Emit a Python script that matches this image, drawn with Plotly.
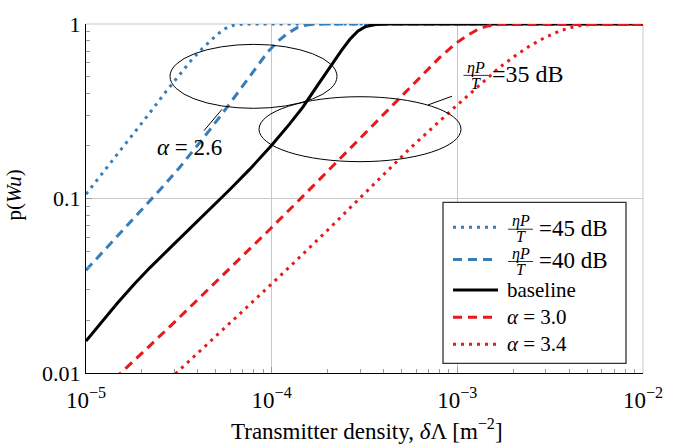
import plotly.graph_objects as go

# Coverage probability vs. transmitter density (log-log)
density_45db = [1.0e-5, 1.182e-5, 1.466e-5, 1.827e-5, 2.219e-5, 2.650e-5, 3.192e-5, 3.614e-5,
                4.091e-5, 4.632e-5, 5.116e-5, 5.649e-5, 6.238e-5, 7.064e-5, 1.0e-2]
p_45db = [0.1059, 0.1325, 0.1778, 0.2402, 0.3123, 0.4007, 0.5142, 0.6032,
          0.6989, 0.7943, 0.8743, 0.9441, 0.9835, 1.0, 1.0]

density_40db = [1.0e-5, 1.182e-5, 1.516e-5, 1.943e-5, 2.617e-5, 3.192e-5, 3.797e-5, 4.632e-5,
                5.720e-5, 7.150e-5, 8.404e-5, 9.515e-5, 1.077e-4, 1.220e-4, 1.381e-4,
                1.563e-4, 1.770e-4, 1.0e-2]
p_40db = [0.03881, 0.04701, 0.06268, 0.0836, 0.1181, 0.1506, 0.1884, 0.2464,
          0.3308, 0.4582, 0.5806, 0.6902, 0.7943, 0.8855, 0.9562,
          0.9898, 1.0, 1.0]

density_base = [1.0e-5, 1.182e-5, 1.466e-5, 1.827e-5, 2.219e-5, 2.819e-5, 3.614e-5, 4.632e-5,
                5.936e-5, 7.608e-5, 1.0e-4, 1.250e-4, 1.469e-4, 1.770e-4, 2.132e-4,
                2.384e-4, 2.633e-4, 2.908e-4, 3.211e-4, 3.636e-4, 4.219e-4, 1.0e-2]
p_base = [0.01525, 0.01896, 0.02495, 0.03244, 0.04032, 0.05175, 0.06683, 0.08688,
          0.1122, 0.1468, 0.2020, 0.2678, 0.3328, 0.4467, 0.5995,
          0.7079, 0.8151, 0.9085, 0.9685, 0.9936, 1.0, 1.0]

density_a30 = [1.424e-5, 1.529e-5, 2.042e-5, 3.192e-5, 5.511e-5, 9.754e-5, 1.663e-4, 2.633e-4,
               4.491e-4, 6.279e-4, 8.044e-4, 9.815e-4, 1.139e-3, 1.290e-3, 1.460e-3,
               1.694e-3, 2.042e-3, 1.0e-2]
p_a30 = [0.009261, 0.009936, 0.01325, 0.02087, 0.03664, 0.0664, 0.1173, 0.1932,
         0.3458, 0.498, 0.6434, 0.7743, 0.8631, 0.9321, 0.9747,
         0.9936, 1.0, 1.0]

density_a34 = [2.819e-5, 3.087e-5, 4.632e-5, 7.608e-5, 1.250e-4, 2.055e-4, 3.376e-4, 5.546e-4,
               9.112e-4, 1.322e-3, 1.694e-3, 2.042e-3, 2.459e-3, 2.962e-3, 3.569e-3,
               4.298e-3, 5.178e-3, 6.238e-3, 1.0e-2]
p_a34 = [0.009201, 0.01006, 0.01506, 0.02464, 0.04058, 0.06769, 0.1144, 0.1932,
         0.3143, 0.4496, 0.566, 0.6556, 0.7499, 0.8359, 0.9145,
         0.9685, 0.9936, 1.0, 1.0]

x_tickvals = [1e-5, 1e-4, 1e-3, 1e-2]
x_ticktext = ["10<sup>−5</sup>", "10<sup>−4</sup>", "10<sup>−3</sup>", "10<sup>−2</sup>"]
y_tickvals = [0.01, 0.1, 1]
y_ticktext = ["0.01", "0.1", "1"]

BLUE = "#377eb8"
RED = "#e41a1c"
DOT = "3px,5px"
DASH = "9px,6px"
FONT = "Liberation Serif, Times New Roman, DejaVu Serif, serif"

W, H = 689, 447
ML, MR, MT, MB = 86, 46, 13, 74
PW, PH = W - ML - MR, H - MT - MB


def px(x):
    return (x - ML) / PW


def py(y):
    return (H - MB - y) / PH


series = [
    (density_45db, p_45db, BLUE, DOT, "45 dB"),
    (density_40db, p_40db, BLUE, DASH, "40 dB"),
    (density_base, p_base, "black", "solid", "baseline"),
    (density_a30, p_a30, RED, DASH, "α = 3.0"),
    (density_a34, p_a34, RED, DOT, "α = 3.4"),
]

fig = go.Figure()
for xs, ys, col, dash, name in series:
    fig.add_trace(go.Scatter(
        x=xs, y=ys, mode="lines", name=name, showlegend=False,
        line=dict(color=col, width=3, dash=dash),
    ))

shapes = []
annotations = []

# frame lines on top and right
shapes.append(dict(type="line", xref="paper", yref="paper", x0=0, x1=1, y0=1, y1=1,
                   line=dict(color="#c8c8c8", width=1), layer="below"))
shapes.append(dict(type="line", xref="paper", yref="paper", x0=1, x1=1, y0=0, y1=1,
                   line=dict(color="#c8c8c8", width=1), layer="below"))

# grouping ellipses and leader lines
shapes.append(dict(type="circle", xref="paper", yref="paper",
                   x0=px(170), x1=px(337), y0=py(100), y1=py(34),
                   line=dict(color="black", width=1)))
shapes.append(dict(type="circle", xref="paper", yref="paper",
                   x0=px(259), x1=px(461), y0=py(155), y1=py(88),
                   line=dict(color="black", width=1)))
shapes.append(dict(type="line", xref="paper", yref="paper",
                   x0=px(222), y0=py(101), x1=px(204), y1=py(123),
                   line=dict(color="black", width=1)))
shapes.append(dict(type="line", xref="paper", yref="paper",
                   x0=px(428), y0=py(96.5), x1=px(452), y1=py(87.5),
                   line=dict(color="black", width=1)))

annotations.append(dict(xref="paper", yref="paper", x=px(189), y=py(140),
                        text="<i>α</i> = 2.6", showarrow=False,
                        font=dict(family=FONT, size=23, color="black"),
                        xanchor="center", yanchor="middle"))


def fraction(xc, yrow, label, left, size):
    # stacked ηP / T fraction followed by the value text
    annotations.append(dict(xref="paper", yref="paper", x=px(xc), y=py(yrow - 6),
                            text="<i>ηP</i>", showarrow=False,
                            font=dict(family=FONT, size=16, color="black"),
                            xanchor="center", yanchor="middle"))
    annotations.append(dict(xref="paper", yref="paper", x=px(xc), y=py(yrow + 10),
                            text="<i>T</i>", showarrow=False,
                            font=dict(family=FONT, size=16, color="black"),
                            xanchor="center", yanchor="middle"))
    shapes.append(dict(type="line", xref="paper", yref="paper",
                       x0=px(xc - 12.5), x1=px(xc + 12.5), y0=py(yrow + 2), y1=py(yrow + 2),
                       line=dict(color="black", width=0.8), layer="above"))
    annotations.append(dict(xref="paper", yref="paper", x=px(left), y=py(yrow + 1),
                            text="=" + label, showarrow=False,
                            font=dict(family=FONT, size=size, color="black"),
                            xanchor="left", yanchor="middle"))


fraction(476, 64, "35 dB", 490, 24)

# legend box
LX0, LX1, LY0, LY1 = 443, 626, 197, 363
shapes.append(dict(type="rect", xref="paper", yref="paper",
                   x0=px(LX0), x1=px(LX1), y0=py(LY1), y1=py(LY0),
                   line=dict(color="#333333", width=1.3), fillcolor="white", layer="above"))
legend_rows = [222.7, 256, 287.3, 315.5, 343.3]
for (xs, ys, col, dash, name), yr in zip(series, legend_rows):
    shapes.append(dict(type="line", xref="paper", yref="paper",
                       x0=px(453), x1=px(498), y0=py(yr), y1=py(yr),
                       line=dict(color=col, width=3, dash=dash), layer="above"))
    if name.endswith("dB"):
        fraction(520.5, yr, name, 537, 23)
    else:
        txt = name.replace("α", "<i>α</i>")
        annotations.append(dict(xref="paper", yref="paper", x=px(505), y=py(yr),
                                text=txt, showarrow=False,
                                font=dict(family=FONT, size=21, color="black"),
                                xanchor="left", yanchor="middle"))

# axis titles
annotations.append(dict(xref="paper", yref="paper", x=px(367), y=py(431),
                        text="Transmitter density, <i>δ</i>Λ [m<sup>−2</sup>]", showarrow=False,
                        font=dict(family=FONT, size=23, color="black"),
                        xanchor="center", yanchor="middle"))
annotations.append(dict(xref="paper", yref="paper", x=px(14), y=py(190),
                        text="p(<i>Wu</i>)", showarrow=False, textangle=-90,
                        font=dict(family=FONT, size=21, color="black"),
                        xanchor="center", yanchor="middle"))

fig.update_layout(
    width=W, height=H,
    margin=dict(l=ML, r=MR, t=MT, b=MB, pad=0),
    paper_bgcolor="white", plot_bgcolor="white",
    font=dict(family=FONT, size=20, color="black"),
    shapes=shapes, annotations=annotations,
    showlegend=False,
)
fig.update_xaxes(
    type="log", range=[-5, -2],
    tickmode="array", tickvals=x_tickvals, ticktext=x_ticktext,
    tickfont=dict(family=FONT, size=23),
    ticklabelstandoff=6,
    showline=True, linecolor="black", linewidth=1.3, mirror=False,
    ticks="inside", ticklen=6, tickcolor="#999999",
    showgrid=True, gridcolor="#c8c8c8", gridwidth=1, zeroline=False,
    minor=dict(ticks="inside", ticklen=4, tickcolor="#999999", dtick="D1", showgrid=False),
)
fig.update_yaxes(
    type="log", range=[-2, 0],
    tickmode="array", tickvals=y_tickvals, ticktext=y_ticktext,
    tickfont=dict(family=FONT, size=22),
    showline=True, linecolor="black", linewidth=1.3, mirror=False,
    ticks="inside", ticklen=6, tickcolor="#999999",
    showgrid=True, gridcolor="#c8c8c8", gridwidth=1, zeroline=False,
    minor=dict(ticks="inside", ticklen=4, tickcolor="#999999", dtick="D1", showgrid=False),
)

fig.write_html("out.html")
